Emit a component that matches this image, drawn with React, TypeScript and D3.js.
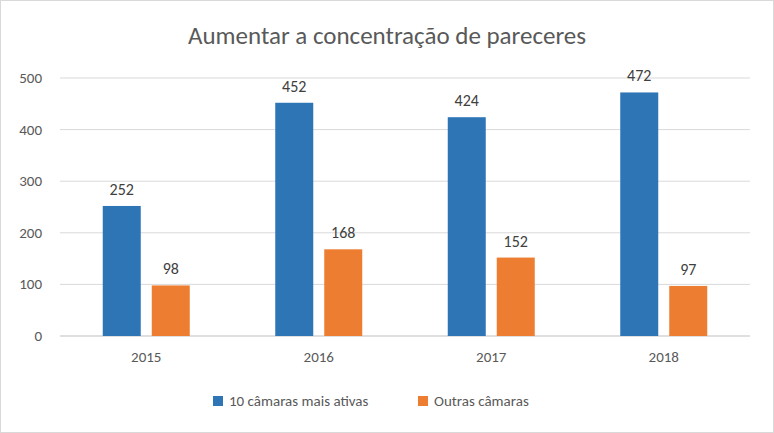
import * as d3 from 'd3';

const years = ['2015', '2016', '2017', '2018']
const topChambers = [252, 452, 424, 472]
const otherChambers = [98, 168, 152, 97]
const yTicks = [0, 100, 200, 300, 400, 500]
const seriesNames = ['10 câmaras mais ativas', 'Outras câmaras']
const colors = ['#2e75b6', '#ed7d31']

const W = 774
const H = 433
const font = 'Carlito, Calibri, "Open Sans", sans-serif'

const App = () => {
  const x = d3.scaleBand().domain(years).range([60, 750])
  const y = d3.scaleLinear().domain([0, 500]).range([336, 78])
  const barW = 38
  const gap = 11
  const series = [topChambers, otherChambers]

  return (
    <svg width={W} height={H} style={{ position: 'absolute', left: 0, top: 0 }} fontFamily={font}>
      <rect x={0.5} y={0.5} width={W - 1} height={H - 1} fill="#fff" stroke="#d9d9d9" />
      <text x={W / 2} y={44} textAnchor="middle" fontSize={25} fill="#595959">
        Aumentar a concentração de pareceres
      </text>
      {yTicks.map(t => (
        <g key={t}>
          <line x1={60} x2={750} y1={y(t)} y2={y(t)} stroke={t === 0 ? '#bfbfbf' : '#d9d9d9'} />
          <text x={42} y={y(t) + 5} textAnchor="end" fontSize={15} fill="#595959">{t}</text>
        </g>
      ))}
      {years.map((yr, i) => {
        const c = x(yr)! + x.bandwidth() / 2
        return (
          <g key={yr}>
            {series.map((s, j) => {
              const bx = j === 0 ? c - gap / 2 - barW : c + gap / 2
              return (
                <g key={j}>
                  <rect x={bx} y={y(s[i])} width={barW} height={y(0) - y(s[i])} fill={colors[j]} />
                  <text x={bx + barW / 2} y={y(s[i]) - 11} textAnchor="middle" fontSize={16} fill="#404040">{s[i]}</text>
                </g>
              )
            })}
            <text x={c} y={362} textAnchor="middle" fontSize={15} fill="#595959">{yr}</text>
          </g>
        )
      })}
      {seriesNames.map((n, j) => {
        const lx = j === 0 ? 213 : 418
        return (
          <g key={n}>
            <rect x={lx} y={396} width={10} height={10} fill={colors[j]} />
            <text x={lx + 16} y={406} fontSize={15} fill="#595959">{n}</text>
          </g>
        )
      })}
    </svg>
  )
}

export default App
